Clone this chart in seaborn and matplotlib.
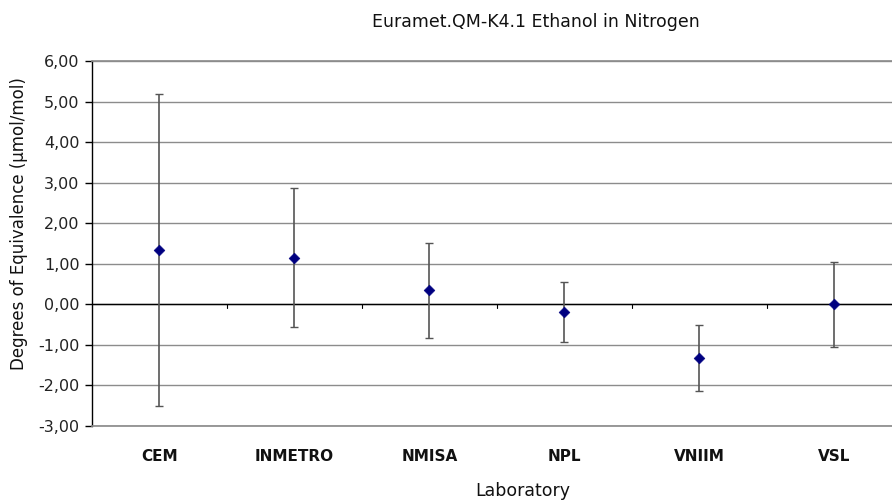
import matplotlib.pyplot as plt
import seaborn as sns
import pandas as pd

labs = ['CEM', 'INMETRO', 'NMISA', 'NPL', 'VNIIM', 'VSL']
doe = [1.34, 1.15, 0.35, -0.19, -1.33, 0.00]
unc = [3.85, 1.72, 1.17, 0.75, 0.82, 1.05]

yticks = [-3, -2, -1, 0, 1, 2, 3, 4, 5, 6]

sns.set_theme(style="white")
plt.rcParams['font.family'] = ['DejaVu Sans']

df = pd.DataFrame({'Laboratory': labs, 'DoE': doe, 'U': unc})

fig = plt.figure(figsize=(8.92, 5.01), dpi=100)
ax = fig.add_axes([0.103, 0.150, 0.908, 0.728])

# grid lines
for v in yticks:
    ax.axhline(v, color='#8c8c8c', linewidth=1.0, zorder=0)
ax.axhline(0, color='black', linewidth=1.0, zorder=1)

ax.errorbar(range(len(labs)), df['DoE'], yerr=df['U'], fmt='none',
            ecolor='#555555', elinewidth=1.2, capsize=3, capthick=1.0, zorder=2)
sns.scatterplot(data=df, x='Laboratory', y='DoE', marker='D', s=30,
                color='#000080', edgecolor='#000080', ax=ax, zorder=3)

# small category separator ticks on the zero line
for b in [0.5, 1.5, 2.5, 3.5, 4.5]:
    ax.plot([b, b], [0, -0.1], color='black', linewidth=0.8, zorder=1)

ax.set_xlim(-0.5, 5.5)
ax.set_ylim(-3, 6)
ax.set_yticks(yticks)
ax.set_yticklabels([f"{v:.2f}".replace('.', ',') for v in yticks], fontsize=11.5,
                   color='#222222')
ax.set_xticks(range(len(labs)))
ax.set_xticklabels(labs, fontsize=11, color='#111111', fontweight='bold')
ax.tick_params(axis='x', length=0, pad=17)
ax.tick_params(axis='y', direction='out', length=5, width=1, color='black', pad=4, left=True)

for s in ['top', 'bottom']:
    ax.spines[s].set_color('#8c8c8c')
ax.spines['right'].set_visible(False)
ax.spines['left'].set_color('black')
ax.spines['left'].set_linewidth(1.0)

ax.set_xlabel('')
ax.set_ylabel('')
fig.text(0.601, 0.957, 'Euramet.QM-K4.1 Ethanol in Nitrogen', ha='center', va='center',
         fontsize=12.5, color='#111111')
fig.text(0.586, 0.020, 'Laboratory', ha='center', va='center', fontsize=12.5, color='#111111')
fig.text(0.021, 0.553, 'Degrees of Equivalence (µmol/mol)', ha='center', va='center',
         rotation=90, fontsize=12, color='#111111')

fig.savefig('out.png', dpi=100)
plt.close(fig)
